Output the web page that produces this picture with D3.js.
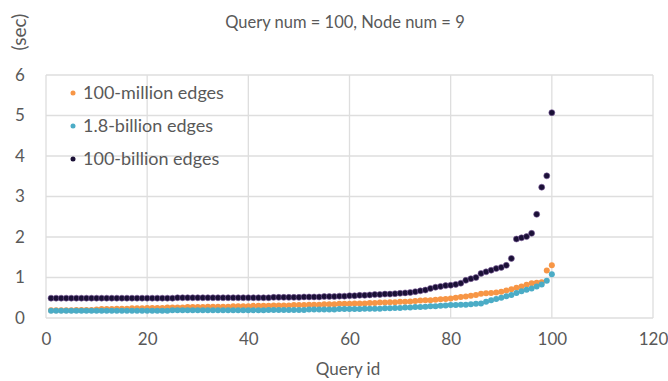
<!DOCTYPE html>
<html>
<head>
<meta charset="utf-8">
<script src="https://cdn.jsdelivr.net/npm/d3@7"></script>
<style>
  body { margin: 0; background: #fff; }
  text { font-family: Lato, "Open Sans", sans-serif; }
</style>
</head>
<body>
<svg width="668" height="381"></svg>
<script>
const seriesNames = ["100-million edges", "1.8-billion edges", "100-billion edges"]
const seriesColors = ["#f79646", "#4bacc6", "#1a1036"]

const million100 = [
  0.19,0.19,0.19,0.19,0.19,0.20,0.20,0.20,0.20,0.21,
  0.22,0.22,0.22,0.23,0.23,0.23,0.24,0.24,0.24,0.25,
  0.25,0.25,0.25,0.26,0.26,0.26,0.26,0.27,0.27,0.27,
  0.27,0.28,0.28,0.28,0.28,0.28,0.29,0.29,0.29,0.29,
  0.30,0.30,0.30,0.30,0.31,0.31,0.31,0.31,0.32,0.32,
  0.32,0.33,0.33,0.33,0.34,0.34,0.34,0.35,0.35,0.35,
  0.36,0.36,0.36,0.37,0.37,0.38,0.38,0.39,0.39,0.40,
  0.40,0.41,0.42,0.43,0.44,0.44,0.45,0.46,0.47,0.48,
  0.50,0.52,0.53,0.55,0.57,0.60,0.61,0.62,0.63,0.65,
  0.68,0.71,0.75,0.78,0.82,0.86,0.87,0.88,1.17,1.30]

const billion1_8 = [
  0.18,0.18,0.18,0.18,0.18,0.18,0.18,0.18,0.18,0.18,
  0.18,0.18,0.18,0.18,0.18,0.18,0.18,0.18,0.18,0.18,
  0.18,0.18,0.18,0.18,0.19,0.19,0.19,0.19,0.19,0.19,
  0.19,0.19,0.19,0.19,0.19,0.19,0.19,0.19,0.19,0.19,
  0.19,0.19,0.19,0.20,0.20,0.20,0.20,0.20,0.20,0.20,
  0.20,0.21,0.21,0.21,0.21,0.21,0.21,0.22,0.22,0.22,
  0.22,0.22,0.23,0.23,0.23,0.23,0.24,0.24,0.25,0.25,
  0.26,0.26,0.27,0.27,0.28,0.29,0.29,0.30,0.31,0.32,
  0.32,0.33,0.33,0.34,0.35,0.36,0.40,0.44,0.47,0.50,
  0.54,0.57,0.62,0.66,0.70,0.73,0.78,0.83,0.92,1.08]

const billion100 = [
  0.49,0.49,0.49,0.49,0.49,0.49,0.49,0.49,0.49,0.49,
  0.49,0.49,0.49,0.49,0.49,0.49,0.49,0.49,0.49,0.49,
  0.49,0.49,0.49,0.49,0.49,0.50,0.50,0.50,0.50,0.50,
  0.50,0.50,0.50,0.50,0.50,0.50,0.50,0.50,0.50,0.50,
  0.50,0.50,0.50,0.50,0.51,0.51,0.51,0.51,0.51,0.51,
  0.52,0.52,0.52,0.52,0.53,0.53,0.53,0.54,0.54,0.55,
  0.55,0.56,0.56,0.57,0.58,0.58,0.59,0.59,0.60,0.61,
  0.62,0.63,0.65,0.67,0.69,0.73,0.76,0.78,0.80,0.81,
  0.83,0.86,0.93,0.97,1.00,1.10,1.14,1.18,1.22,1.25,
  1.30,1.47,1.95,1.98,2.01,2.09,2.56,3.23,3.51,5.07]

const xTicks = [0, 20, 40, 60, 80, 100, 120]
const yTicks = [0, 1, 2, 3, 4, 5, 6]

const svg = d3.select("svg")

const margin = {left: 46, right: 15, top: 75, bottom: 63}
const width = 668, height = 381

const x = d3.scaleLinear().domain([0, 120]).range([margin.left, width - margin.right])
const y = d3.scaleLinear().domain([0, 6]).range([height - margin.bottom, margin.top])

// grid
const grid = svg.append("g")
grid.selectAll(".hg")
    .data(yTicks)
    .enter()
    .append("line")
    .attr("x1", x(0)).attr("x2", x(120))
    .attr("y1", d => y(d)).attr("y2", d => y(d))
    .attr("stroke", "#dedede")
    .attr("stroke-width", 1.3)
grid.selectAll(".vg")
    .data(xTicks)
    .enter()
    .append("line")
    .attr("y1", y(0)).attr("y2", y(6))
    .attr("x1", d => x(d)).attr("x2", d => x(d))
    .attr("stroke", "#dedede")
    .attr("stroke-width", 1.3)

// axes (labels only)
const xAxis = svg.append("g")
    .attr("transform", `translate(0, ${y(0) + 12})`)
    .call(d3.axisBottom(x).tickValues(xTicks).tickSize(0).tickFormat(d3.format("d")))
xAxis.select(".domain").remove()
xAxis.attr("font-size", 17).attr("font-family", null)
xAxis.selectAll("text").attr("fill", "#595959")

const yAxis = svg.append("g")
    .attr("transform", `translate(26, 0)`)
    .call(d3.axisLeft(y).tickValues(yTicks).tickSize(0).tickFormat(d3.format("d")))
yAxis.select(".domain").remove()
yAxis.attr("font-size", 17).attr("font-family", null)
yAxis.selectAll("text")
    .attr("fill", "#595959")
    .attr("text-anchor", "middle")
    .attr("x", -6)

// titles
svg.append("text")
    .attr("x", 345).attr("y", 28)
    .attr("text-anchor", "middle")
    .attr("font-size", 16.5)
    .attr("fill", "#595959")
    .text("Query num = 100, Node num = 9")

svg.append("text")
    .attr("x", 348).attr("y", 375)
    .attr("text-anchor", "middle")
    .attr("font-size", 17)
    .attr("fill", "#595959")
    .text("Query id")

svg.append("text")
    .attr("transform", "translate(26, 32) rotate(-90)")
    .attr("text-anchor", "middle")
    .attr("font-size", 19)
    .attr("fill", "#595959")
    .text("(sec)")

// points
const allSeries = [million100, billion1_8, billion100]
allSeries.forEach(function (vals, i) {
    svg.append("g")
        .selectAll("circle")
        .data(vals)
        .enter()
        .append("circle")
        .attr("cx", (d, j) => x(j + 1))
        .attr("cy", d => y(d))
        .attr("r", 3)
        .attr("fill", seriesColors[i])
        .attr("stroke", i == 2 ? "#7a5a9a" : "none")
        .attr("stroke-width", 0.6)
})

// legend
const legend = svg.append("g")
const rows = legend.selectAll("g")
    .data(seriesNames)
    .enter()
    .append("g")
    .attr("transform", (d, i) => `translate(73, ${93 + i * 33})`)
rows.append("circle")
    .attr("r", 2.5)
    .attr("fill", (d, i) => seriesColors[i])
rows.append("text")
    .attr("x", 10)
    .attr("dy", "0.35em")
    .attr("font-size", 18)
    .attr("fill", "#595959")
    .text(d => d)
</script>
</body>
</html>
